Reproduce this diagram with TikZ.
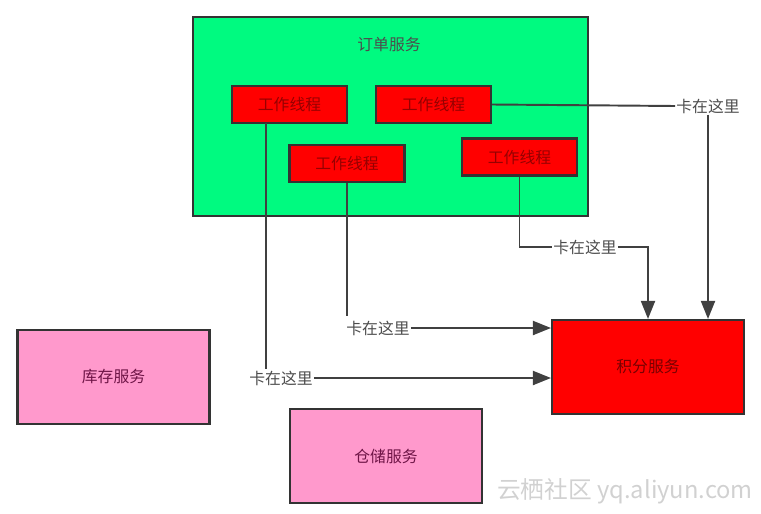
\documentclass[tikz,border=0pt]{standalone}
\usepackage{fontspec}
\setmainfont{Noto Sans CJK SC}
\usepackage{tikz}
\usetikzlibrary{arrows.meta}
\usetikzlibrary{positioning}
\definecolor{order}{HTML}{00FA80}
\definecolor{hot}{HTML}{FF0000}
\definecolor{pinkish}{HTML}{FF99CC}
\definecolor{frame}{HTML}{333333}

\begin{document}
\begin{tikzpicture}[
     x=0.02cm, y=-0.02cm,
     font=\fontsize{9}{11}\selectfont,
     servicebox/.style={rectangle, draw=frame, line width=1.2pt, minimum width=3.84cm, minimum height=1.88cm, inner sep=0mm},
     workerbox/.style={rectangle, draw=frame, line width=1.2pt, fill=hot, minimum width=2.3cm, minimum height=0.74cm, inner sep=0mm, text={rgb,255:red,150;green,0;blue,0}},
     stucktext/.style={inner sep=0.5pt, text=black!70},
     myline/.style={line width=1.1pt, draw=black!75},
     myarrow/.style={myline, -{Triangle[length=3.6mm, width=2.8mm]}}
 ]
 \useasboundingbox (0,0) rectangle (761,514);

 % order service with its worker threads
 \node[rectangle, draw=frame, line width=1.2pt, fill=order, minimum width=7.9cm, minimum height=3.98cm] (order) at (390.5,116.5) {};
 \node[text=black!70] (ordertitle) at (389,44) {订单服务};

 \node[workerbox] (w1) at (289.5,104.5) {工作线程};
 \node[workerbox] (w2) at (433.5,104.5) {工作线程};
 \node[workerbox] (w3) at (347,163.5) {工作线程};
 \node[workerbox] (w4) at (519.5,157) {工作线程};

 % the other services
 \node[servicebox, fill=hot, text={rgb,255:red,120;green,0;blue,0}] (points) at (648,367) {积分服务};
 \node[servicebox, fill=pinkish, text={rgb,255:red,110;green,20;blue,70}] (stock) at (113.5,377) {库存服务};
 \node[servicebox, fill=pinkish, text={rgb,255:red,110;green,20;blue,70}] (storage) at (386,456) {仓储服务};

 % where the threads get stuck
 \node[stucktext] (s1) at (281,378) {卡在这里};
 \node[stucktext] (s2) at (378,328) {卡在这里};
 \node[stucktext] (s3) at (585,247) {卡在这里};
 \node[stucktext] (s4) at (708,106) {卡在这里};

 \coordinate (w1out) at (266,123);
 \coordinate (w3out) at (347,316);

 \draw[myline] (w1out) -- (w1out |- s1.north);
 \draw[myarrow] (s1.east) -- (s1.east -| points.west);

 \draw[myline] (w3.south) -- (w3out);
 \draw[myarrow] (s2.east) -- (s2.east -| points.west);

 \draw[myline] (w4.south) |- (s3.west);
 \draw[myarrow] (s3.east) -| (points.north);

 \draw[myline] (w2.east) -- (s4.west);
 \draw[myarrow] (s4.south) -- (s4.south |- points.north);

 % watermark
 \node[text=black!18, font=\fontsize{13.5}{16}\selectfont] (mark) at (625,491) {云栖社区 yq.aliyun.com};
\end{tikzpicture}
\end{document}
